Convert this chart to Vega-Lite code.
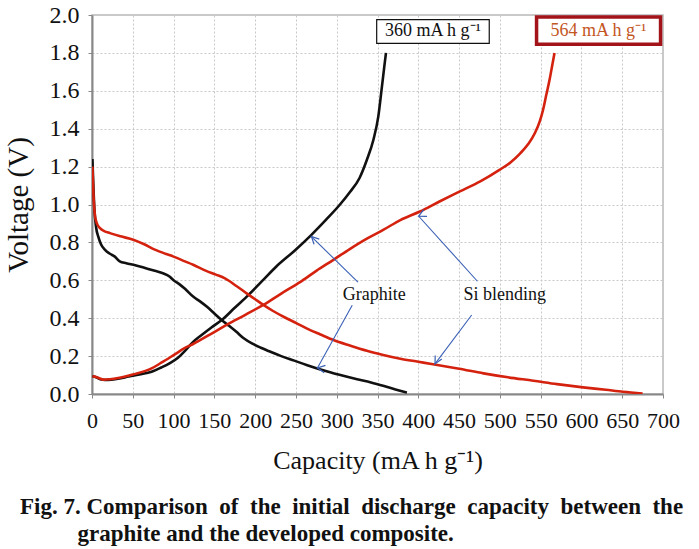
{
  "$schema": "https://vega.github.io/schema/vega-lite/v6.json",
  "width": 571,
  "height": 379,
  "autosize": {"type": "none"},
  "padding": {"left": 92, "top": 15, "right": 36, "bottom": 155},
  "background": "white",
  "config": {
    "view": {"stroke": "#b8b8b8", "strokeWidth": 1.5},
    "font": "Liberation Serif"
  },
  "title": {
    "text": [
      "Fig. 7.\u00a0Comparison\u2002of\u2002the\u2002initial\u2002discharge\u2002capacity\u2002between\u2002the",
      "\u200b\u2003\u2003\u2002graphite and the developed composite."
    ],
    "orient": "bottom",
    "anchor": "start",
    "frame": "group",
    "dx": -72,
    "offset": 23,
    "font": "Liberation Serif",
    "fontSize": 23,
    "fontWeight": "bold",
    "lineHeight": 27,
    "color": "#111111"
  },
  "datasets": {
    "curves": [
      {"cap": 0.5, "v": 1.24, "material": "Graphite", "step": "Graphite discharge", "i": 1},
      {"cap": 1.5, "v": 1.12, "material": "Graphite", "step": "Graphite discharge", "i": 2},
      {"cap": 3, "v": 0.97, "material": "Graphite", "step": "Graphite discharge", "i": 3},
      {"cap": 5, "v": 0.88, "material": "Graphite", "step": "Graphite discharge", "i": 4},
      {"cap": 7.7, "v": 0.83, "material": "Graphite", "step": "Graphite discharge", "i": 5},
      {"cap": 11, "v": 0.79, "material": "Graphite", "step": "Graphite discharge", "i": 6},
      {"cap": 16, "v": 0.76, "material": "Graphite", "step": "Graphite discharge", "i": 7},
      {"cap": 22, "v": 0.74, "material": "Graphite", "step": "Graphite discharge", "i": 8},
      {"cap": 28, "v": 0.725, "material": "Graphite", "step": "Graphite discharge", "i": 9},
      {"cap": 34, "v": 0.70, "material": "Graphite", "step": "Graphite discharge", "i": 10},
      {"cap": 42, "v": 0.69, "material": "Graphite", "step": "Graphite discharge", "i": 11},
      {"cap": 53, "v": 0.68, "material": "Graphite", "step": "Graphite discharge", "i": 12},
      {"cap": 65, "v": 0.665, "material": "Graphite", "step": "Graphite discharge", "i": 13},
      {"cap": 77, "v": 0.65, "material": "Graphite", "step": "Graphite discharge", "i": 14},
      {"cap": 87, "v": 0.637, "material": "Graphite", "step": "Graphite discharge", "i": 15},
      {"cap": 95, "v": 0.62, "material": "Graphite", "step": "Graphite discharge", "i": 16},
      {"cap": 100, "v": 0.60, "material": "Graphite", "step": "Graphite discharge", "i": 17},
      {"cap": 107, "v": 0.58, "material": "Graphite", "step": "Graphite discharge", "i": 18},
      {"cap": 114, "v": 0.555, "material": "Graphite", "step": "Graphite discharge", "i": 19},
      {"cap": 124, "v": 0.514, "material": "Graphite", "step": "Graphite discharge", "i": 20},
      {"cap": 132, "v": 0.49, "material": "Graphite", "step": "Graphite discharge", "i": 21},
      {"cap": 141, "v": 0.46, "material": "Graphite", "step": "Graphite discharge", "i": 22},
      {"cap": 150, "v": 0.425, "material": "Graphite", "step": "Graphite discharge", "i": 23},
      {"cap": 159, "v": 0.39, "material": "Graphite", "step": "Graphite discharge", "i": 24},
      {"cap": 168, "v": 0.36, "material": "Graphite", "step": "Graphite discharge", "i": 25},
      {"cap": 177, "v": 0.328, "material": "Graphite", "step": "Graphite discharge", "i": 26},
      {"cap": 186, "v": 0.294, "material": "Graphite", "step": "Graphite discharge", "i": 27},
      {"cap": 196, "v": 0.267, "material": "Graphite", "step": "Graphite discharge", "i": 28},
      {"cap": 207, "v": 0.244, "material": "Graphite", "step": "Graphite discharge", "i": 29},
      {"cap": 218, "v": 0.224, "material": "Graphite", "step": "Graphite discharge", "i": 30},
      {"cap": 232, "v": 0.2, "material": "Graphite", "step": "Graphite discharge", "i": 31},
      {"cap": 248, "v": 0.176, "material": "Graphite", "step": "Graphite discharge", "i": 32},
      {"cap": 263, "v": 0.153, "material": "Graphite", "step": "Graphite discharge", "i": 33},
      {"cap": 278, "v": 0.132, "material": "Graphite", "step": "Graphite discharge", "i": 34},
      {"cap": 293, "v": 0.113, "material": "Graphite", "step": "Graphite discharge", "i": 35},
      {"cap": 308, "v": 0.096, "material": "Graphite", "step": "Graphite discharge", "i": 36},
      {"cap": 325, "v": 0.078, "material": "Graphite", "step": "Graphite discharge", "i": 37},
      {"cap": 342, "v": 0.061, "material": "Graphite", "step": "Graphite discharge", "i": 38},
      {"cap": 358, "v": 0.042, "material": "Graphite", "step": "Graphite discharge", "i": 39},
      {"cap": 372, "v": 0.024, "material": "Graphite", "step": "Graphite discharge", "i": 40},
      {"cap": 386, "v": 0.007, "material": "Graphite", "step": "Graphite discharge", "i": 41},

      {"cap": 0.5, "v": 0.095, "material": "Graphite", "step": "Graphite charge", "i": 1},
      {"cap": 5, "v": 0.088, "material": "Graphite", "step": "Graphite charge", "i": 2},
      {"cap": 10, "v": 0.078, "material": "Graphite", "step": "Graphite charge", "i": 3},
      {"cap": 16, "v": 0.074, "material": "Graphite", "step": "Graphite charge", "i": 4},
      {"cap": 24, "v": 0.076, "material": "Graphite", "step": "Graphite charge", "i": 5},
      {"cap": 32, "v": 0.08, "material": "Graphite", "step": "Graphite charge", "i": 6},
      {"cap": 45, "v": 0.092, "material": "Graphite", "step": "Graphite charge", "i": 7},
      {"cap": 58, "v": 0.103, "material": "Graphite", "step": "Graphite charge", "i": 8},
      {"cap": 73, "v": 0.117, "material": "Graphite", "step": "Graphite charge", "i": 9},
      {"cap": 85, "v": 0.14, "material": "Graphite", "step": "Graphite charge", "i": 10},
      {"cap": 95, "v": 0.162, "material": "Graphite", "step": "Graphite charge", "i": 11},
      {"cap": 105, "v": 0.19, "material": "Graphite", "step": "Graphite charge", "i": 12},
      {"cap": 114, "v": 0.228, "material": "Graphite", "step": "Graphite charge", "i": 13},
      {"cap": 124, "v": 0.275, "material": "Graphite", "step": "Graphite charge", "i": 14},
      {"cap": 134, "v": 0.31, "material": "Graphite", "step": "Graphite charge", "i": 15},
      {"cap": 146, "v": 0.35, "material": "Graphite", "step": "Graphite charge", "i": 16},
      {"cap": 159, "v": 0.39, "material": "Graphite", "step": "Graphite charge", "i": 17},
      {"cap": 175, "v": 0.455, "material": "Graphite", "step": "Graphite charge", "i": 18},
      {"cap": 192, "v": 0.523, "material": "Graphite", "step": "Graphite charge", "i": 19},
      {"cap": 209, "v": 0.598, "material": "Graphite", "step": "Graphite charge", "i": 20},
      {"cap": 226, "v": 0.673, "material": "Graphite", "step": "Graphite charge", "i": 21},
      {"cap": 248, "v": 0.755, "material": "Graphite", "step": "Graphite charge", "i": 22},
      {"cap": 269, "v": 0.84, "material": "Graphite", "step": "Graphite charge", "i": 23},
      {"cap": 287, "v": 0.92, "material": "Graphite", "step": "Graphite charge", "i": 24},
      {"cap": 304, "v": 1.0, "material": "Graphite", "step": "Graphite charge", "i": 25},
      {"cap": 316, "v": 1.065, "material": "Graphite", "step": "Graphite charge", "i": 26},
      {"cap": 328, "v": 1.14, "material": "Graphite", "step": "Graphite charge", "i": 27},
      {"cap": 337, "v": 1.236, "material": "Graphite", "step": "Graphite charge", "i": 28},
      {"cap": 345, "v": 1.342, "material": "Graphite", "step": "Graphite charge", "i": 29},
      {"cap": 351, "v": 1.465, "material": "Graphite", "step": "Graphite charge", "i": 30},
      {"cap": 355, "v": 1.606, "material": "Graphite", "step": "Graphite charge", "i": 31},
      {"cap": 358.4, "v": 1.73, "material": "Graphite", "step": "Graphite charge", "i": 32},
      {"cap": 360.4, "v": 1.80, "material": "Graphite", "step": "Graphite charge", "i": 33},

      {"cap": 0.5, "v": 1.20, "material": "Si blending", "step": "Si discharge", "i": 1},
      {"cap": 1.5, "v": 1.08, "material": "Si blending", "step": "Si discharge", "i": 2},
      {"cap": 3.7, "v": 0.94, "material": "Si blending", "step": "Si discharge", "i": 3},
      {"cap": 6, "v": 0.9, "material": "Si blending", "step": "Si discharge", "i": 4},
      {"cap": 9.8, "v": 0.875, "material": "Si blending", "step": "Si discharge", "i": 5},
      {"cap": 15, "v": 0.86, "material": "Si blending", "step": "Si discharge", "i": 6},
      {"cap": 22, "v": 0.849, "material": "Si blending", "step": "Si discharge", "i": 7},
      {"cap": 35, "v": 0.832, "material": "Si blending", "step": "Si discharge", "i": 8},
      {"cap": 50.6, "v": 0.814, "material": "Si blending", "step": "Si discharge", "i": 9},
      {"cap": 64, "v": 0.79, "material": "Si blending", "step": "Si discharge", "i": 10},
      {"cap": 77, "v": 0.762, "material": "Si blending", "step": "Si discharge", "i": 11},
      {"cap": 90, "v": 0.74, "material": "Si blending", "step": "Si discharge", "i": 12},
      {"cap": 100, "v": 0.725, "material": "Si blending", "step": "Si discharge", "i": 13},
      {"cap": 114, "v": 0.70, "material": "Si blending", "step": "Si discharge", "i": 14},
      {"cap": 124, "v": 0.682, "material": "Si blending", "step": "Si discharge", "i": 15},
      {"cap": 140, "v": 0.65, "material": "Si blending", "step": "Si discharge", "i": 16},
      {"cap": 152, "v": 0.63, "material": "Si blending", "step": "Si discharge", "i": 17},
      {"cap": 163, "v": 0.61, "material": "Si blending", "step": "Si discharge", "i": 18},
      {"cap": 177, "v": 0.57, "material": "Si blending", "step": "Si discharge", "i": 19},
      {"cap": 190, "v": 0.53, "material": "Si blending", "step": "Si discharge", "i": 20},
      {"cap": 200, "v": 0.5, "material": "Si blending", "step": "Si discharge", "i": 21},
      {"cap": 210, "v": 0.47, "material": "Si blending", "step": "Si discharge", "i": 22},
      {"cap": 222, "v": 0.438, "material": "Si blending", "step": "Si discharge", "i": 23},
      {"cap": 236, "v": 0.405, "material": "Si blending", "step": "Si discharge", "i": 24},
      {"cap": 251, "v": 0.373, "material": "Si blending", "step": "Si discharge", "i": 25},
      {"cap": 265, "v": 0.342, "material": "Si blending", "step": "Si discharge", "i": 26},
      {"cap": 280, "v": 0.314, "material": "Si blending", "step": "Si discharge", "i": 27},
      {"cap": 296, "v": 0.285, "material": "Si blending", "step": "Si discharge", "i": 28},
      {"cap": 316, "v": 0.256, "material": "Si blending", "step": "Si discharge", "i": 29},
      {"cap": 337, "v": 0.228, "material": "Si blending", "step": "Si discharge", "i": 30},
      {"cap": 357, "v": 0.206, "material": "Si blending", "step": "Si discharge", "i": 31},
      {"cap": 378, "v": 0.186, "material": "Si blending", "step": "Si discharge", "i": 32},
      {"cap": 400, "v": 0.17, "material": "Si blending", "step": "Si discharge", "i": 33},
      {"cap": 418, "v": 0.157, "material": "Si blending", "step": "Si discharge", "i": 34},
      {"cap": 450, "v": 0.133, "material": "Si blending", "step": "Si discharge", "i": 35},
      {"cap": 480, "v": 0.109, "material": "Si blending", "step": "Si discharge", "i": 36},
      {"cap": 510, "v": 0.088, "material": "Si blending", "step": "Si discharge", "i": 37},
      {"cap": 541, "v": 0.07, "material": "Si blending", "step": "Si discharge", "i": 38},
      {"cap": 570, "v": 0.052, "material": "Si blending", "step": "Si discharge", "i": 39},
      {"cap": 602, "v": 0.035, "material": "Si blending", "step": "Si discharge", "i": 40},
      {"cap": 630, "v": 0.022, "material": "Si blending", "step": "Si discharge", "i": 41},
      {"cap": 651, "v": 0.012, "material": "Si blending", "step": "Si discharge", "i": 42},
      {"cap": 675, "v": 0.003, "material": "Si blending", "step": "Si discharge", "i": 43},

      {"cap": 0.5, "v": 0.093, "material": "Si blending", "step": "Si charge", "i": 1},
      {"cap": 5, "v": 0.09, "material": "Si blending", "step": "Si charge", "i": 2},
      {"cap": 9, "v": 0.083, "material": "Si blending", "step": "Si charge", "i": 3},
      {"cap": 14, "v": 0.076, "material": "Si blending", "step": "Si charge", "i": 4},
      {"cap": 22, "v": 0.078, "material": "Si blending", "step": "Si charge", "i": 5},
      {"cap": 32, "v": 0.084, "material": "Si blending", "step": "Si charge", "i": 6},
      {"cap": 50, "v": 0.103, "material": "Si blending", "step": "Si charge", "i": 7},
      {"cap": 73, "v": 0.135, "material": "Si blending", "step": "Si charge", "i": 8},
      {"cap": 85, "v": 0.165, "material": "Si blending", "step": "Si charge", "i": 9},
      {"cap": 100, "v": 0.205, "material": "Si blending", "step": "Si charge", "i": 10},
      {"cap": 114, "v": 0.243, "material": "Si blending", "step": "Si charge", "i": 11},
      {"cap": 124, "v": 0.264, "material": "Si blending", "step": "Si charge", "i": 12},
      {"cap": 145, "v": 0.315, "material": "Si blending", "step": "Si charge", "i": 13},
      {"cap": 165, "v": 0.365, "material": "Si blending", "step": "Si charge", "i": 14},
      {"cap": 188, "v": 0.418, "material": "Si blending", "step": "Si charge", "i": 15},
      {"cap": 210, "v": 0.47, "material": "Si blending", "step": "Si charge", "i": 16},
      {"cap": 232, "v": 0.53, "material": "Si blending", "step": "Si charge", "i": 17},
      {"cap": 255, "v": 0.59, "material": "Si blending", "step": "Si charge", "i": 18},
      {"cap": 275, "v": 0.65, "material": "Si blending", "step": "Si charge", "i": 19},
      {"cap": 296, "v": 0.708, "material": "Si blending", "step": "Si charge", "i": 20},
      {"cap": 316, "v": 0.765, "material": "Si blending", "step": "Si charge", "i": 21},
      {"cap": 337, "v": 0.82, "material": "Si blending", "step": "Si charge", "i": 22},
      {"cap": 357, "v": 0.866, "material": "Si blending", "step": "Si charge", "i": 23},
      {"cap": 378, "v": 0.918, "material": "Si blending", "step": "Si charge", "i": 24},
      {"cap": 402, "v": 0.963, "material": "Si blending", "step": "Si charge", "i": 25},
      {"cap": 426, "v": 1.016, "material": "Si blending", "step": "Si charge", "i": 26},
      {"cap": 451, "v": 1.069, "material": "Si blending", "step": "Si charge", "i": 27},
      {"cap": 476, "v": 1.122, "material": "Si blending", "step": "Si charge", "i": 28},
      {"cap": 500, "v": 1.184, "material": "Si blending", "step": "Si charge", "i": 29},
      {"cap": 513, "v": 1.222, "material": "Si blending", "step": "Si charge", "i": 30},
      {"cap": 525, "v": 1.27, "material": "Si blending", "step": "Si charge", "i": 31},
      {"cap": 535, "v": 1.32, "material": "Si blending", "step": "Si charge", "i": 32},
      {"cap": 543, "v": 1.377, "material": "Si blending", "step": "Si charge", "i": 33},
      {"cap": 549, "v": 1.44, "material": "Si blending", "step": "Si charge", "i": 34},
      {"cap": 553, "v": 1.50, "material": "Si blending", "step": "Si charge", "i": 35},
      {"cap": 557, "v": 1.58, "material": "Si blending", "step": "Si charge", "i": 36},
      {"cap": 561, "v": 1.659, "material": "Si blending", "step": "Si charge", "i": 37},
      {"cap": 564, "v": 1.73, "material": "Si blending", "step": "Si charge", "i": 38},
      {"cap": 567, "v": 1.80, "material": "Si blending", "step": "Si charge", "i": 39}
    ],
    "boxes": [
      {"box": "graphite", "x": 349, "x2": 487, "y": 1.976, "y2": 1.85, "cx": 418, "cy": 1.913, "label": "360 mA h g\u207b\u00b9"},
      {"box": "si", "x": 545, "x2": 697, "y": 1.99, "y2": 1.845, "cx": 621, "cy": 1.917, "label": "564 mA h g\u207b\u00b9"}
    ],
    "labels": [
      {"x": 346, "y": 0.523, "text": "Graphite"},
      {"x": 506, "y": 0.523, "text": "Si blending"}
    ],
    "arrows": [
      {"id": "g1", "x": 326, "y": 0.59, "x2": 269, "y2": 0.831},
      {"id": "g2", "x": 319, "y": 0.468, "x2": 276.5, "y2": 0.138},
      {"id": "s1", "x": 472.5, "y": 0.595, "x2": 400.5, "y2": 0.938},
      {"id": "s2", "x": 465.5, "y": 0.417, "x2": 420.5, "y2": 0.159}
    ]
  },
  "layer": [
    {
      "data": {"name": "curves"},
      "mark": {"type": "line", "strokeWidth": 2.6, "clip": true, "interpolate": "monotone"},
      "encoding": {
        "x": {
          "field": "cap", "type": "quantitative",
          "scale": {"domain": [0, 700], "nice": false, "zero": false},
          "axis": {
            "values": [0, 50, 100, 150, 200, 250, 300, 350, 400, 450, 500, 550, 600, 650, 700],
            "tickCount": 30,
            "title": "Capacity (mA h g\u207b\u00b9)",
            "titleFont": "Liberation Serif", "titleFontSize": 26, "titleFontWeight": "normal", "titleColor": "#111",
            "titlePadding": 16,
            "labelFont": "Liberation Sans Narrow", "labelFontSize": 22, "labelColor": "#111",
            "labelPadding": 12, "labelFlush": false, "labelOverlap": false,
            "domainColor": "#888", "domainWidth": 2,
            "tickColor": "#888", "tickSize": 4, "tickWidth": 1,
            "grid": true, "gridColor": "#c8c8c8", "gridDash": [2, 2], "gridWidth": 1
          }
        },
        "y": {
          "field": "v", "type": "quantitative",
          "scale": {"domain": [0, 2], "nice": false},
          "axis": {
            "values": [0, 0.2, 0.4, 0.6, 0.8, 1.0, 1.2, 1.4, 1.6, 1.8, 2.0],
            "tickCount": 30,
            "format": ".1f",
            "title": "Voltage (V)",
            "titleFont": "Liberation Serif", "titleFontSize": 29, "titleFontWeight": "normal", "titleColor": "#111",
            "titlePadding": 16,
            "labelFont": "Liberation Serif", "labelFontSize": 24, "labelColor": "#111",
            "labelPadding": 9, "labelFlush": false, "labelOverlap": false,
            "domainColor": "#888", "domainWidth": 2,
            "tickColor": "#888", "tickSize": 4, "tickWidth": 1,
            "grid": true, "gridColor": "#c8c8c8", "gridDash": [2, 2], "gridWidth": 1
          }
        },
        "color": {
          "field": "material", "type": "nominal",
          "scale": {"domain": ["Graphite", "Si blending"], "range": ["#111111", "#d4220f"]},
          "legend": null
        },
        "detail": {"field": "step", "type": "nominal"},
        "order": {"field": "i", "type": "quantitative"}
      }
    },
    {
      "data": {"name": "arrows"},
      "mark": {"type": "rule", "color": "#3a60b5", "strokeWidth": 1.1},
      "encoding": {
        "x": {"field": "x", "type": "quantitative"},
        "y": {"field": "y", "type": "quantitative"},
        "x2": {"field": "x2"},
        "y2": {"field": "y2"}
      }
    },
    {
      "data": {"name": "arrows"},
      "mark": {"type": "point", "shape": "M-0.5,1L0,0L0.5,1", "filled": false, "stroke": "#3a60b5", "strokeWidth": 1.2, "size": 220, "opacity": 1},
      "encoding": {
        "x": {"field": "x2", "type": "quantitative"},
        "y": {"field": "y2", "type": "quantitative"},
        "angle": {
          "field": "id", "type": "nominal",
          "scale": {"domain": ["g1", "g2", "s1", "s2"], "range": [315, 208, 318, 217]},
          "legend": null
        }
      }
    },
    {
      "data": {"name": "labels"},
      "mark": {"type": "text", "font": "Liberation Serif", "fontSize": 18, "color": "#111", "align": "center", "baseline": "middle"},
      "encoding": {
        "x": {"field": "x", "type": "quantitative"},
        "y": {"field": "y", "type": "quantitative"},
        "text": {"field": "text"}
      }
    },
    {
      "data": {"name": "boxes"},
      "transform": [{"filter": "datum.box === 'graphite'"}],
      "mark": {"type": "rect", "fill": "white", "stroke": "#111", "strokeWidth": 1.2},
      "encoding": {
        "x": {"field": "x", "type": "quantitative"},
        "x2": {"field": "x2"},
        "y": {"field": "y", "type": "quantitative"},
        "y2": {"field": "y2"}
      }
    },
    {
      "data": {"name": "boxes"},
      "transform": [{"filter": "datum.box === 'si'"}],
      "mark": {"type": "rect", "fill": "white", "stroke": "#a3141a", "strokeWidth": 3.5, "clip": false},
      "encoding": {
        "x": {"field": "x", "type": "quantitative"},
        "x2": {"field": "x2"},
        "y": {"field": "y", "type": "quantitative"},
        "y2": {"field": "y2"}
      }
    },
    {
      "data": {"name": "boxes"},
      "mark": {"type": "text", "font": "Liberation Serif", "fontSize": 18, "align": "center", "baseline": "middle"},
      "encoding": {
        "x": {"field": "cx", "type": "quantitative"},
        "y": {"field": "cy", "type": "quantitative"},
        "text": {"field": "label"},
        "color": {
          "field": "box", "type": "nominal",
          "scale": {"domain": ["graphite", "si"], "range": ["#111111", "#c4561f"]},
          "legend": null
        }
      }
    }
  ],
  "resolve": {"scale": {"color": "independent"}}
}
